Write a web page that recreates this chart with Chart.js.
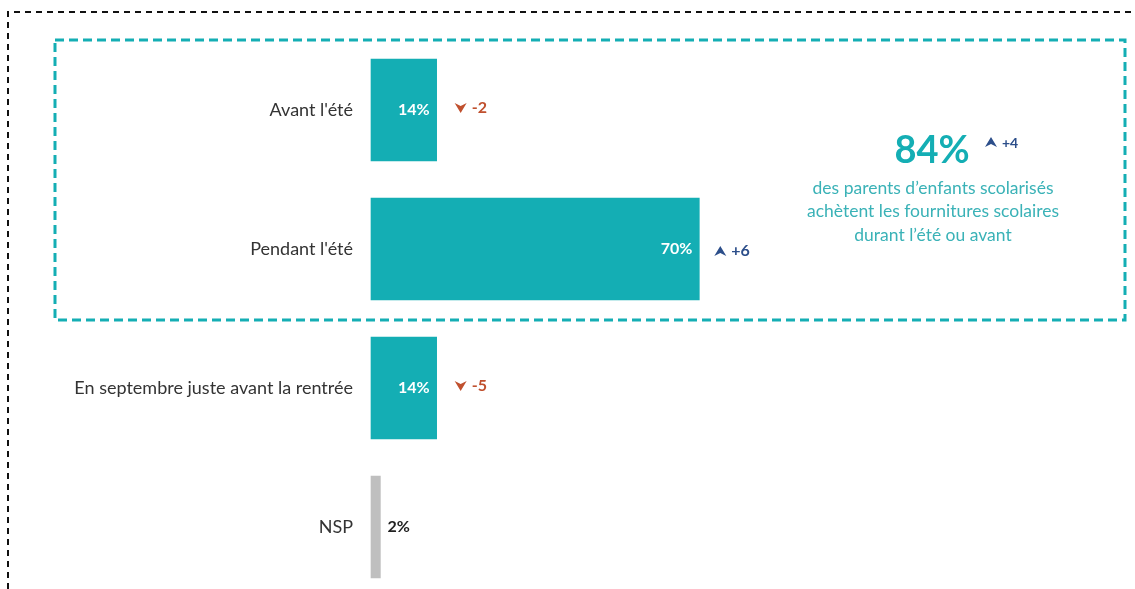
<!DOCTYPE html>
<html>
<head>
<meta charset="utf-8">
<script src="https://cdn.jsdelivr.net/npm/chart.js@4"></script>
<style>
	html, body { margin: 0; padding: 0; background: #fff; }
	.wrap { position: relative; width: 1135px; height: 589px; }
</style>
</head>
<body>
<div class="wrap"><canvas id="mainChart" width="1135" height="589"></canvas></div>
<script>
// data
const categories = ["Avant l'été", "Pendant l'été", "En septembre juste avant la rentrée", "NSP"];
const values = [14, 70, 14, 2];
const changes = [-2, 6, -5, null];
const barColors = ['#14AEB4', '#14AEB4', '#14AEB4', '#BFBFBF'];
const summaryValue = '84%';
const summaryChange = 4;
const summaryLines = ['des parents d\u2019enfants scolarisés', 'achètent les fournitures scolaires', 'durant l\u2019été ou avant'];

const TEAL = '#14AEB4';
const RED = '#C0502E';
const BLUE = '#2C4E8A';
const FONT = 'Lato, "Open Sans", sans-serif';

function drawArrow(ctx, x, y, up, color) {
	ctx.save();
	ctx.fillStyle = color;
	ctx.beginPath();
	if (up) {
		ctx.moveTo(x - 6, y + 5);
		ctx.lineTo(x, y - 5);
		ctx.lineTo(x + 6, y + 5);
		ctx.lineTo(x, y + 2);
	} else {
		ctx.moveTo(x - 6, y - 5);
		ctx.lineTo(x, y + 5);
		ctx.lineTo(x + 6, y - 5);
		ctx.lineTo(x, y - 2);
	}
	ctx.closePath();
	ctx.fill();
	ctx.restore();
}

// labels, arrows, boxes and summary text
const decorPlugin = {
	id: 'decor',
	afterDatasetsDraw(chart) {
		const ctx = chart.ctx;
		const meta = chart.getDatasetMeta(0);

		meta.data.forEach((bar, i) => {
			const v = values[i];
			ctx.save();
			ctx.font = 'bold 16px ' + FONT;
			ctx.textBaseline = 'middle';
			if (v >= 5) {
				ctx.fillStyle = '#fff';
				ctx.textAlign = 'right';
				ctx.fillText(v + '%', bar.x - 7, bar.y);
			} else {
				ctx.fillStyle = '#222';
				ctx.textAlign = 'left';
				ctx.fillText(v + '%', bar.x + 7, bar.y);
			}
			const c = changes[i];
			if (c !== null) {
				const up = c > 0;
				const col = up ? BLUE : RED;
				const ax = bar.x + (up ? 21 : 24);
				const ay = up ? bar.y + 2 : bar.y - 2;
				drawArrow(ctx, ax, ay, up, col);
				ctx.fillStyle = col;
				ctx.textAlign = 'left';
				ctx.fillText((up ? '+' : '') + c, ax + 11, ay);
			}
			ctx.restore();
		});

		// outer black dashed frame
		ctx.save();
		ctx.strokeStyle = '#111';
		ctx.lineWidth = 2;
		ctx.setLineDash([6, 5]);
		ctx.beginPath();
		ctx.moveTo(8, 589);
		ctx.lineTo(8, 12);
		ctx.lineTo(1135, 12);
		ctx.stroke();

		// teal dashed box
		ctx.strokeStyle = TEAL;
		ctx.lineWidth = 3;
		ctx.setLineDash([9, 5]);
		ctx.strokeRect(55, 40, 1070, 280);
		ctx.restore();

		// summary
		ctx.save();
		ctx.textAlign = 'center';
		ctx.textBaseline = 'middle';
		ctx.fillStyle = TEAL;
		ctx.font = 'bold 38px ' + FONT;
		ctx.fillText(summaryValue, 932, 151);
		drawArrow(ctx, 991, 142, true, BLUE);
		ctx.fillStyle = BLUE;
		ctx.font = 'bold 14px ' + FONT;
		ctx.textAlign = 'left';
		ctx.fillText('+' + summaryChange, 1002, 143);
		ctx.textAlign = 'center';
		ctx.fillStyle = '#3AB2B7';
		ctx.font = '17.5px ' + FONT;
		summaryLines.forEach((line, i) => {
			ctx.fillText(line, 933, 188 + i * 23.5);
		});
		ctx.restore();
	}
};

document.addEventListener("DOMContentLoaded", () => {
	const ctx = document.getElementById("mainChart");

	new Chart(ctx, {
		type: 'bar',
		data: {
			labels: categories,
			datasets: [{
				data: values,
				backgroundColor: barColors,
				barThickness: 102,
				clip: false
			}]
		},
		options: {
			indexAxis: 'y',
			responsive: false,
			animation: false,
			layout: {
				padding: { top: 110, bottom: 62, left: 0, right: 295 }
			},
			plugins: {
				legend: { display: false },
				tooltip: { enabled: false }
			},
			scales: {
				x: {
					display: false,
					min: 0,
					max: 100
				},
				y: {
					offset: false,
					grid: { display: false, drawTicks: false },
					border: { display: false },
					ticks: {
						padding: 18,
						color: '#333',
						font: { family: 'Lato, "Open Sans", sans-serif', size: 18 }
					},
					afterFit(scale) {
						scale.width = 371;
					}
				}
			}
		},
		plugins: [decorPlugin]
	});
});
</script>
</body>
</html>
